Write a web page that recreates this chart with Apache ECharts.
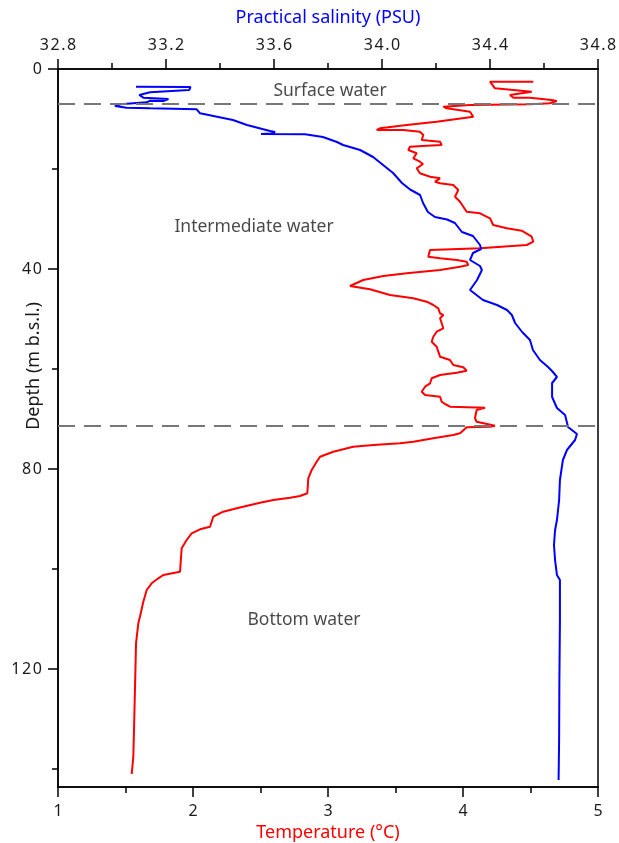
<!DOCTYPE html>
<html>
<head>
<meta charset="utf-8">
<script src="https://cdn.jsdelivr.net/npm/echarts@6/dist/echarts.min.js"></script>
<style>
  html, body { margin: 0; padding: 0; background: #fff; }
  #chart { width: 619px; height: 843px; }
</style>
</head>
<body>
<div id="chart"></div>
<script>
// CTD profile: practical salinity and temperature against depth

// Salinity profile (PSU) with matching depths (m)
const salDepth = [3.54, 3.6, 4.2, 4.66, 5.2, 5.74, 6.0, 6.4, 6.34, 6.66, 7.06, 7.4, 7.74, 7.86, 8.06, 8.86,
  10.2, 11.2, 12.4, 12.6, 12.9, 13.0, 13.06, 13.6, 14.6, 15.2, 16.2, 17.6, 19.2, 20.8, 22.8, 24.1, 25.2,
  26.8, 28.6, 29.6, 30.1, 30.8, 32.6, 33.4, 35.2, 36.0, 36.8, 38.2, 39.4, 40.2, 42.2, 44.2, 46.2, 47.2,
  48.2, 49.2, 50.8, 52.6, 54.2, 56.2, 58.2, 59.6, 60.6, 61.6, 62.8, 65.6, 67.8, 69.2, 71.6, 73.0, 74.2,
  76.2, 78.2, 82.2, 86.2, 90.2, 92.2, 95.2, 98.2, 101.2, 102.2, 110.2, 122.2, 134.2, 142.2];
const salinity = [33.089, 33.291, 33.286, 33.141, 33.101, 33.116, 33.209, 33.190, 33.141, 33.129, 33.030,
  33.011, 33.054, 33.141, 33.314, 33.326, 33.448, 33.500, 33.585, 33.604, 33.590, 33.552, 33.715, 33.781,
  33.833, 33.856, 33.919, 33.967, 34.004, 34.041, 34.074, 34.104, 34.141, 34.152, 34.170, 34.196, 34.241,
  34.270, 34.296, 34.337, 34.363, 34.367, 34.337, 34.326, 34.363, 34.370, 34.352, 34.326, 34.374, 34.426,
  34.463, 34.481, 34.493, 34.519, 34.548, 34.559, 34.585, 34.615, 34.633, 34.648, 34.630, 34.630, 34.648,
  34.678, 34.689, 34.722, 34.715, 34.685, 34.670, 34.659, 34.656, 34.648, 34.641, 34.637, 34.641, 34.648,
  34.659, 34.659, 34.657, 34.656, 34.654];

// Temperature profile (°C) with matching depths (m)
const tempDepth = [2.54, 2.54, 2.86, 3.86, 4.54, 4.86, 5.2, 5.74, 5.74, 6.2, 6.4, 6.86, 7.06, 7.2, 7.54,
  7.86, 8.54, 9.54, 10.54, 11.2, 11.86, 12.2, 12.2, 12.54, 13.2, 14.2, 14.54, 15.2, 15.34, 15.54, 16.2,
  16.86, 17.86, 18.54, 19.0, 19.86, 20.86, 21.54, 21.86, 22.54, 22.86, 23.2, 24.2, 25.54, 26.54, 28.54,
  28.86, 29.86, 31.2, 31.86, 32.34, 33.54, 34.54, 35.2, 35.86, 36.2, 37.54, 37.86, 38.2, 38.54, 39.2,
  39.54, 40.2, 40.86, 41.4, 42.2, 43.4, 44.06, 45.2, 45.86, 46.54, 47.2, 47.86, 48.86, 49.2, 49.86, 51.86,
  52.54, 53.54, 54.54, 55.54, 56.54, 57.54, 58.2, 59.2, 59.66, 60.34, 60.74, 61.2, 61.86, 62.86, 63.54,
  64.54, 65.2, 65.54, 66.54, 67.0, 67.54, 67.74, 67.86, 68.2, 68.86, 69.86, 70.54, 71.34, 71.54, 71.66,
  72.86, 73.2, 73.86, 74.54, 74.86, 75.2, 75.54, 76.06, 76.54, 77.54, 78.54, 80.2, 81.86, 84.86, 85.4,
  85.74, 86.2, 86.74, 87.86, 88.54, 89.54, 91.54, 92.06, 92.86, 94.2, 95.86, 100.54, 101.2, 101.86,
  102.86, 104.2, 106.54, 109.54, 110.86, 114.86, 124.2, 132.2, 137.54, 141.0];
const temperature = [4.521, 4.200, 4.213, 4.237, 4.509, 4.496, 4.348, 4.373, 4.496, 4.657, 4.694, 4.644,
  4.496, 4.052, 3.854, 3.879, 4.052, 4.076, 3.805, 3.583, 3.385, 3.361, 3.558, 3.681, 3.706, 3.694, 3.830,
  3.842, 3.731, 3.607, 3.595, 3.657, 3.632, 3.681, 3.704, 3.657, 3.681, 3.756, 3.830, 3.793, 3.830, 3.928,
  3.965, 3.941, 3.978, 4.027, 4.126, 4.200, 4.224, 4.324, 4.435, 4.509, 4.521, 4.472, 4.126, 3.756, 3.743,
  3.830, 3.953, 4.027, 4.039, 3.978, 3.830, 3.583, 3.410, 3.261, 3.163, 3.311, 3.459, 3.632, 3.731, 3.780,
  3.817, 3.830, 3.854, 3.830, 3.854, 3.805, 3.780, 3.768, 3.805, 3.817, 3.830, 3.904, 3.928, 4.002, 4.027,
  3.953, 3.830, 3.768, 3.756, 3.719, 3.694, 3.719, 3.830, 3.842, 3.867, 3.904, 4.163, 4.176, 4.101, 4.096,
  4.089, 4.101, 4.237, 4.200, 4.027, 3.978, 3.928, 3.780, 3.632, 3.533, 3.336, 3.187, 3.113, 3.039, 2.941,
  2.916, 2.879, 2.854, 2.847, 2.793, 2.719, 2.595, 2.496, 2.324, 2.224, 2.150, 2.126, 2.052, 1.990, 1.953,
  1.916, 1.904, 1.780, 1.743, 1.694, 1.657, 1.632, 1.607, 1.595, 1.578, 1.570, 1.563, 1.558, 1.546];

// Water-mass boundaries (m) and layer names
const boundaryDepths = [7.0, 71.4];
const layerNames = ['Surface water', 'Intermediate water', 'Bottom water'];
const layerTemp = [3.015, 2.452, 2.822];
const layerDepth = [4.4, 31.6, 110.2];

// Axis ticks
const tempTicks = [1, 2, 3, 4, 5];
const salTicks = [32.8, 33.2, 33.6, 34.0, 34.4, 34.8];
const depthMajorTicks = [0, 40, 80, 120];
const depthMinorTicks = [20, 60, 100, 140];
const depthMax = 143.6;

const FONT = '"Noto Sans", "Open Sans", sans-serif';
const BLACK = '#000';
const TEXT = '#1a1a1a';
const BLUE = '#0000ff';
const RED = '#ff0000';

const zip = (xs, ys) => xs.map((x, i) => [x, ys[i]]);
// tick numbers are set slightly tracked
const tracked = s => String(s).split('').join('\u200A');

const axisLineStyle = { color: BLACK, width: 1.5 };
const tickLabel = { color: TEXT, fontSize: 16, fontFamily: FONT };

const chart = echarts.init(document.getElementById('chart'), null, { renderer: 'canvas' });
chart.setOption({
  animation: false,
  backgroundColor: '#fff',
  grid: {
    left: 58, top: 69, right: 21, bottom: 56,
    outerBoundsMode: 'none', containLabel: false,
    show: true, borderColor: BLACK, borderWidth: 1.5, backgroundColor: 'transparent'
  },
  xAxis: [
    {
      type: 'value', position: 'bottom',
      min: tempTicks[0], max: tempTicks[tempTicks.length - 1], interval: 1,
      name: 'Temperature (°C)', nameLocation: 'middle', nameGap: 36,
      nameTextStyle: { color: RED, fontSize: 18, fontFamily: FONT },
      axisLine: { show: true, onZero: false, lineStyle: axisLineStyle },
      axisTick: { show: true, length: 10, lineStyle: axisLineStyle },
      minorTick: { show: true, splitNumber: 2, length: 6, lineStyle: axisLineStyle },
      axisLabel: Object.assign({ margin: 16, formatter: v => tracked(v) }, tickLabel),
      splitLine: { show: false }
    },
    {
      type: 'value', position: 'top',
      min: salTicks[0], max: salTicks[salTicks.length - 1], interval: 0.4,
      name: 'Practical salinity (PSU)', nameLocation: 'middle', nameGap: 42,
      nameTextStyle: { color: BLUE, fontSize: 18, fontFamily: FONT },
      axisLine: { show: true, onZero: false, lineStyle: axisLineStyle },
      axisTick: { show: true, length: 10, lineStyle: axisLineStyle },
      minorTick: { show: true, splitNumber: 2, length: 6, lineStyle: axisLineStyle },
      axisLabel: Object.assign({ margin: 16, formatter: v => tracked(v.toFixed(1)) }, tickLabel),
      splitLine: { show: false }
    }
  ],
  yAxis: [
    {
      type: 'value', inverse: true, position: 'left', min: 0, max: depthMax,
      axisLine: { show: true, onZero: false, lineStyle: axisLineStyle },
      axisTick: { show: true, length: 10, lineStyle: axisLineStyle, customValues: depthMajorTicks },
      axisLabel: Object.assign({ margin: 16, customValues: depthMajorTicks, formatter: v => tracked(v) }, tickLabel),
      splitLine: { show: false }
    },
    {
      type: 'value', inverse: true, position: 'left', min: 0, max: depthMax,
      axisLine: { show: false },
      axisTick: { show: true, length: 6, lineStyle: axisLineStyle, customValues: depthMinorTicks },
      axisLabel: { show: false },
      splitLine: { show: false }
    }
  ],
  graphic: [{
    type: 'text', left: 25, top: 302,
    rotation: Math.PI / 2,
    style: { text: 'Depth (m b.s.l.)', fill: TEXT, font: '18px ' + FONT }
  }],
  series: [
    {
      name: 'Temperature', type: 'line', xAxisIndex: 0, yAxisIndex: 0,
      data: zip(temperature, tempDepth), showSymbol: false, symbol: 'none',
      lineStyle: { color: RED, width: 2 }, silent: true, z: 3,
      markLine: {
        silent: true, symbol: 'none',
        label: { show: false },
        lineStyle: { color: '#777', width: 2, type: [17, 9] },
        data: boundaryDepths.map(d => ({ yAxis: d }))
      }
    },
    {
      name: 'Salinity', type: 'line', xAxisIndex: 1, yAxisIndex: 0,
      data: zip(salinity, salDepth), showSymbol: false, symbol: 'none',
      lineStyle: { color: BLUE, width: 2 }, silent: true, z: 3
    },
    {
      name: 'Layers', type: 'scatter', xAxisIndex: 0, yAxisIndex: 0,
      symbolSize: 0, silent: true,
      data: layerNames.map((n, i) => ({ value: [layerTemp[i], layerDepth[i]], name: n })),
      label: { show: true, position: 'inside', formatter: p => p.name,
        color: TEXT, fontSize: 17.5, fontFamily: FONT }
    }
  ]
});
</script>
</body>
</html>
